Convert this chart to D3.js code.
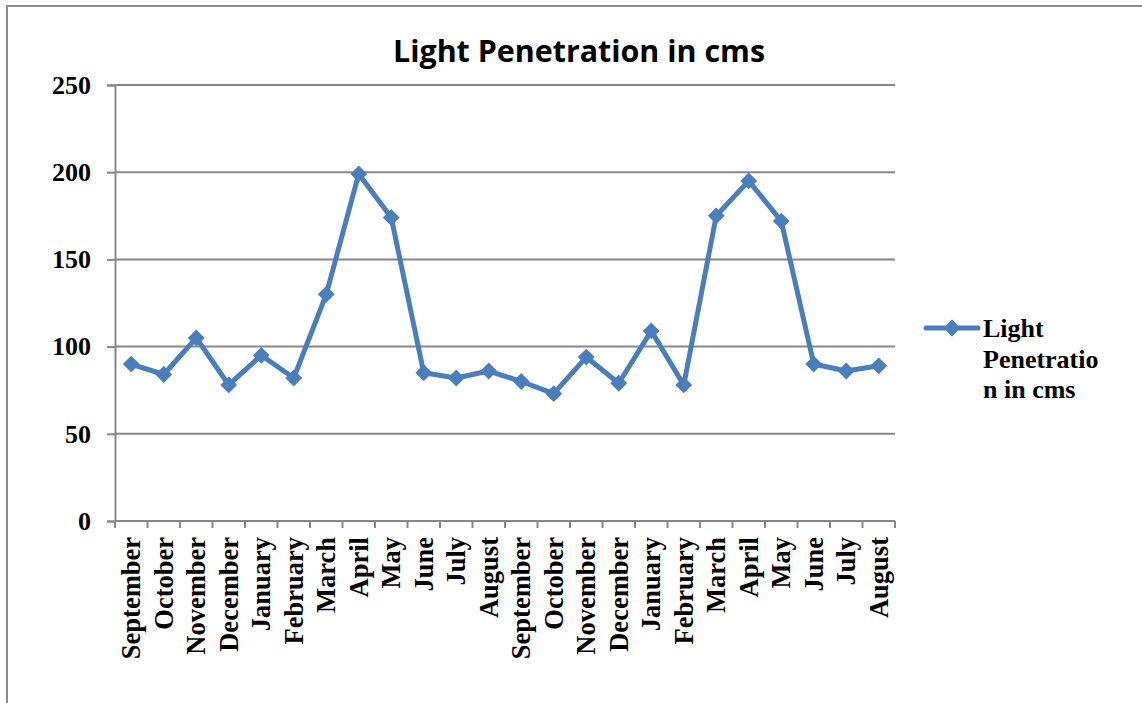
<!DOCTYPE html>
<html>
<head>
<meta charset="utf-8">
<script src="https://d3js.org/d3.v7.min.js"></script>
<style>
    body { margin: 0; background: #fff; }
</style>
</head>
<body>
<div id="canvas"></div>

<script>
    const width = 1142;
    const height = 703;

    // chart data
    const months = ["September", "October", "November", "December", "January", "February",
        "March", "April", "May", "June", "July", "August",
        "September", "October", "November", "December", "January", "February",
        "March", "April", "May", "June", "July", "August"];
    const penetration = [90, 84, 105, 78, 95, 82, 130, 199, 174, 85, 82, 86,
        80, 73, 94, 79, 109, 78, 175, 195, 172, 90, 86, 89];
    const yTicks = [0, 50, 100, 150, 200, 250];
    const seriesName = ["Light", "Penetratio", "n in cms"];
    const title = "Light Penetration in cms";

    const blue = "#4a7ebb";
    const grey = "#878787";
    const serif = "'Liberation Serif', 'Times New Roman', serif";

    const plot = {left: 115, right: 895, top: 85, bottom: 521};

    const svg = d3.select("#canvas")
        .append("svg")
        .attr("width", width)
        .attr("height", height);

    // outer chart frame (runs off the right and bottom edge)
    svg.append("rect")
        .attr("x", 7)
        .attr("y", 6)
        .attr("width", width + 20)
        .attr("height", height + 20)
        .attr("fill", "#fff")
        .attr("stroke", "#8c8c8c")
        .attr("stroke-width", 2);

    const x = d3.scaleBand()
        .domain(d3.range(months.length))
        .range([plot.left, plot.right]);

    const y = d3.scaleLinear()
        .domain([0, 250])
        .range([plot.bottom, plot.top]);

    // gridlines + y axis
    const yAxis = svg.append("g")
        .attr("transform", `translate(${plot.left},0)`)
        .call(d3.axisLeft(y).tickValues(yTicks).tickSize(8).tickPadding(16));

    yAxis.select(".domain").attr("stroke", grey).attr("stroke-width", 2);
    yAxis.selectAll(".tick line").attr("stroke", grey).attr("stroke-width", 2);
    yAxis.selectAll(".tick text")
        .attr("fill", "#000")
        .style("font-family", serif)
        .style("font-weight", "bold")
        .style("font-size", "26px");

    svg.append("g")
        .selectAll("line")
        .data(yTicks.filter(d => d > 0))
        .enter()
        .append("line")
        .attr("x1", plot.left)
        .attr("x2", plot.right)
        .attr("y1", d => y(d))
        .attr("y2", d => y(d))
        .attr("stroke", grey)
        .attr("stroke-width", 2);

    // x axis with ticks on category boundaries
    const xAxis = svg.append("g")
        .attr("transform", `translate(0,${plot.bottom})`);

    xAxis.append("line")
        .attr("x1", plot.left)
        .attr("x2", plot.right)
        .attr("stroke", grey)
        .attr("stroke-width", 2);

    xAxis.selectAll("line.tick")
        .data(d3.range(months.length + 1))
        .enter()
        .append("line")
        .attr("class", "tick")
        .attr("x1", i => plot.left + i * x.step())
        .attr("x2", i => plot.left + i * x.step())
        .attr("y1", 0)
        .attr("y2", 7)
        .attr("stroke", grey)
        .attr("stroke-width", 2);

    xAxis.selectAll("text")
        .data(months)
        .enter()
        .append("text")
        .attr("transform", (d, i) => `translate(${x(i) + x.bandwidth() / 2 + 9},16) rotate(-90)`)
        .attr("text-anchor", "end")
        .style("font-family", serif)
        .style("font-weight", "bold")
        .style("font-size", "26.5px")
        .text(d => d);

    // the series line
    const line = d3.line()
        .x((d, i) => x(i) + x.bandwidth() / 2)
        .y(d => y(d));

    svg.append("path")
        .datum(penetration)
        .attr("d", line)
        .attr("fill", "none")
        .attr("stroke", blue)
        .attr("stroke-width", 5)
        .attr("stroke-linejoin", "round");

    const diamond = d3.symbol().type(d3.symbolDiamond2).size(180);

    svg.selectAll("path.marker")
        .data(penetration)
        .enter()
        .append("path")
        .attr("class", "marker")
        .attr("d", diamond)
        .attr("transform", (d, i) => `translate(${x(i) + x.bandwidth() / 2},${y(d)})`)
        .attr("fill", blue);

    // title
    svg.append("text")
        .attr("x", 579)
        .attr("y", 62)
        .attr("text-anchor", "middle")
        .attr("textLength", 372)
        .attr("lengthAdjust", "spacingAndGlyphs")
        .style("font-family", "'Open Sans', sans-serif")
        .style("font-weight", "bold")
        .style("font-size", "30px")
        .text(title);

    // legend
    const legend = svg.append("g");

    legend.append("line")
        .attr("x1", 926)
        .attr("x2", 978)
        .attr("y1", 328)
        .attr("y2", 328)
        .attr("stroke", blue)
        .attr("stroke-width", 5)
        .attr("stroke-linecap", "round");

    legend.append("path")
        .attr("d", diamond)
        .attr("transform", "translate(952,328)")
        .attr("fill", blue);

    legend.selectAll("text")
        .data(seriesName)
        .enter()
        .append("text")
        .attr("x", 983)
        .attr("y", (d, i) => 337 + i * 30.5)
        .style("font-family", serif)
        .style("font-weight", "bold")
        .style("font-size", "26px")
        .text(d => d);
</script>
</body>
</html>
